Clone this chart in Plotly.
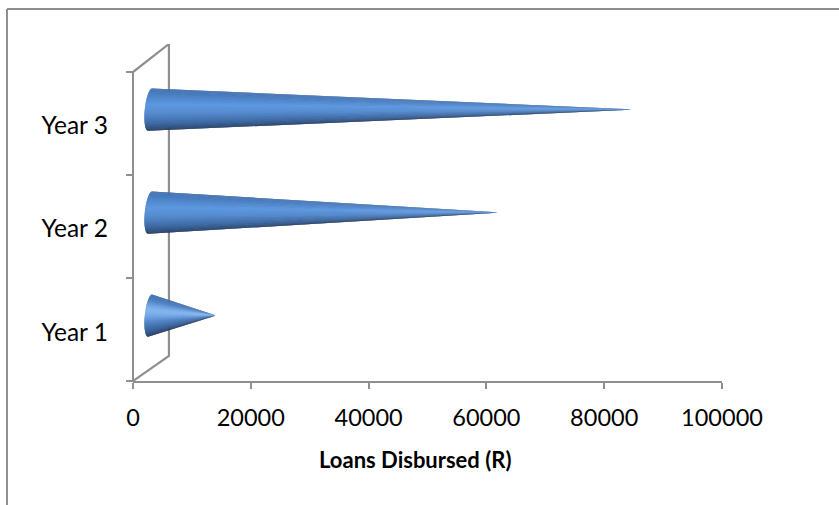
import math
import plotly.graph_objects as go

categories = ["Year 1", "Year 2", "Year 3"]
loans = [11200, 59600, 82500]
x_ticks = [0, 20000, 40000, 60000, 80000, 100000]
axis_title = "Loans Disbursed (R)"

GREY = "#8f8f8f"
FONT = "Lato, 'Open Sans', sans-serif"

# Pseudo-3D depth of the chart box, in axis units
WALL_DX = 6100
WALL_DY_LOW = 0.243
WALL_DY_HIGH = 0.272
CONE_DX = 2900
CONE_DY = 0.135
CONE_R = 0.205
BASE_A = 900
BASE_TILT = 350

# Strength of the specular streak on each cone; it reads stronger on a short cone
cone_gloss = [0.65, 0.0, 0.0]

# Pixel geometry of the plot area, used to place the outer frame and axis title
PLOT_L, PLOT_R, PLOT_T, PLOT_B = 133, 722, 44, 381


def px_x(px):
    return (px - PLOT_L) / (PLOT_R - PLOT_L)


def px_y(px):
    return (PLOT_B - px) / (PLOT_B - PLOT_T)


# Shading round the cone, from the top edge to the bottom edge
STOPS = [
    (0.00, (62, 106, 164)),
    (0.22, (72, 124, 190)),
    (0.42, (94, 152, 224)),
    (0.55, (86, 140, 208)),
    (0.75, (60, 102, 158)),
    (0.92, (36, 64, 104)),
    (1.00, (28, 50, 84)),
]
GLOSS = (150, 195, 245)


def shade(t, gloss):
    rgb = STOPS[-1][1]
    for (t0, c0), (t1, c1) in zip(STOPS, STOPS[1:]):
        if t <= t1:
            f = (t - t0) / (t1 - t0)
            rgb = tuple(a + (b - a) * f for a, b in zip(c0, c1))
            break
    w = gloss * math.exp(-(((t - 0.42) / 0.13) ** 2))
    r, g, b = (round(a + (b - a) * w) for a, b in zip(rgb, GLOSS))
    return f"rgb({r},{g},{b})"


fig = go.Figure()

# Back wall of the 3D box
fig.add_trace(go.Scatter(
    x=[0, WALL_DX, WALL_DX, 0],
    y=[0, WALL_DY_LOW, 3 + WALL_DY_HIGH, 3],
    mode="lines",
    line=dict(color=GREY, width=2.2),
    cliponaxis=False,
    hoverinfo="skip",
    showlegend=False,
))

# Each cone is a fan of thin facets running from the base rim to the tip
BANDS = 60
for i, (name, value, gloss) in enumerate(zip(categories, loans, cone_gloss)):
    cy = i + 0.5 + CONE_DY
    tip_x = CONE_DX + value
    for k in range(BANDS):
        t0 = k / BANDS
        t1 = min(1, (k + 2) / BANDS)
        xs, ys = [], []
        for j in range(5):
            t = t0 + (t1 - t0) * j / 4
            a = math.pi * (0.5 - t)
            xs.append(CONE_DX - BASE_A * math.cos(a) + BASE_TILT * math.sin(a))
            ys.append(cy + CONE_R * math.sin(a))
        xs.append(tip_x)
        ys.append(cy)
        fig.add_trace(go.Scatter(
            x=xs, y=ys,
            mode="lines",
            line=dict(width=0),
            fill="toself",
            fillcolor=shade((k + 0.5) / BANDS, gloss),
            cliponaxis=False,
            name=name,
            hoverinfo="skip",
            showlegend=False,
        ))

fig.update_layout(
    width=839,
    height=505,
    margin=dict(l=PLOT_L, r=839 - PLOT_R, t=PLOT_T, b=505 - PLOT_B),
    paper_bgcolor="white",
    plot_bgcolor="white",
    font=dict(family=FONT, size=23, color="black"),
    showlegend=False,
    xaxis=dict(
        range=[0, 100000],
        tickvals=x_ticks,
        tickformat="d",
        showgrid=False,
        zeroline=False,
        showline=True,
        linecolor=GREY,
        linewidth=2,
        ticks="outside",
        ticklen=6,
        tickwidth=2,
        tickcolor=GREY,
        ticklabelstandoff=9,
        tickfont=dict(size=23.5),
    ),
    yaxis=dict(
        range=[0, 3 + WALL_DY_HIGH],
        tickvals=[0.47, 1.48, 2.48],
        ticktext=categories,
        showgrid=False,
        zeroline=False,
        showline=False,
        ticks="",
        ticklen=6,
        ticklabelstandoff=24,
        tickfont=dict(size=24.5),
        minor=dict(tickvals=[0, 1, 2, 3], ticks="outside", ticklen=6, tickwidth=2, tickcolor=GREY),
    ),
    annotations=[
        dict(text=f"<b>{axis_title}</b>", xref="paper", yref="paper",
             x=px_x(414.5), y=px_y(459), xanchor="center", yanchor="middle",
             showarrow=False, font=dict(size=22)),
    ],
    shapes=[
        # Category axis spine, stopping at the top category boundary
        dict(type="line", xref="paper", yref="paper",
             x0=0, x1=0, y0=px_y(382), y1=px_y(71),
             line=dict(color=GREY, width=2), layer="below"),
        # Outer chart frame: left and top edges
        dict(type="line", xref="paper", yref="paper",
             x0=px_x(7), x1=px_x(839), y0=px_y(9), y1=px_y(9),
             line=dict(color=GREY, width=2)),
        dict(type="line", xref="paper", yref="paper",
             x0=px_x(7), x1=px_x(7), y0=px_y(9), y1=px_y(505),
             line=dict(color=GREY, width=2)),
    ],
)

fig.write_html("out.html")
